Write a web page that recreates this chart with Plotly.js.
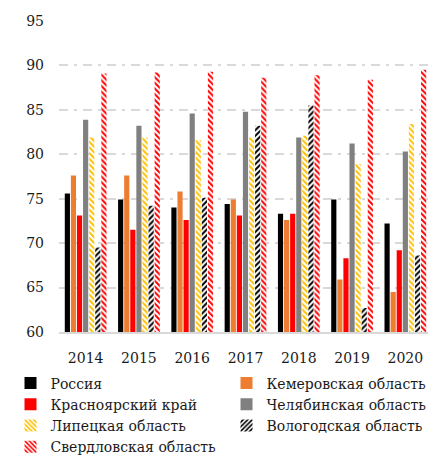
<!DOCTYPE html>
<html>
<head>
<meta charset="utf-8">
<script src="https://cdn.plot.ly/plotly-3.0.1.min.js"></script>
<style>
html,body{margin:0;padding:0;overflow:hidden;background:#fff;}
#chart{width:432px;height:456px;}
</style>
</head>
<body>
<div id="chart"></div>
<script>
const years = ['2014','2015','2016','2017','2018','2019','2020'];
const russia      = [75.6, 74.9, 74.0, 74.4, 73.3, 74.9, 72.2];
const kemerovo    = [77.6, 77.6, 75.8, 74.9, 72.6, 65.9, 64.5];
const krasnoyarsk = [73.1, 71.5, 72.6, 73.1, 73.3, 68.3, 69.2];
const chelyabinsk = [83.9, 83.2, 84.6, 84.8, 81.9, 81.2, 80.3];
const lipetsk     = [81.9, 81.9, 81.6, 81.9, 82.1, 78.9, 83.4];
const vologda     = [69.5, 74.2, 75.1, 83.2, 85.5, 62.7, 68.6];
const sverdlovsk  = [89.1, 89.2, 89.3, 88.6, 88.9, 88.4, 89.5];
const yTicks = [60, 65, 70, 75, 80, 85, 90, 95];

function solid(name, y, color) {
  return {type:'bar', name:name, x:years, y:y, marker:{color:color, line:{width:0}}};
}
function patterned(name, y, color, shape) {
  return {type:'bar', name:name, x:years, y:y,
    marker:{color:'#ffffff', line:{width:0},
      pattern:{shape:shape, fgcolor:color, bgcolor:'#ffffff', size:4, solidity:0.5, fillmode:'replace'}}};
}

const data = [
  solid('Россия', russia, '#000000'),
  solid('Кемеровская область', kemerovo, '#ED7D31'),
  solid('Красноярский край', krasnoyarsk, '#FF0000'),
  solid('Челябинская область', chelyabinsk, '#808080'),
  patterned('Липецкая область', lipetsk, '#FFC000', '\\'),
  patterned('Вологодская область', vologda, '#000000', '/'),
  patterned('Свердловская область', sverdlovsk, '#FF0000', '\\')
];

const font = {family:'DejaVu Serif', size:14, color:'#1a1a1a'};

const layout = {
  width:432, height:456,
  margin:{l:59, r:0, t:21, b:124, autoexpand:false},
  paper_bgcolor:'#ffffff', plot_bgcolor:'#ffffff',
  font:font,
  barmode:'group', bargap:0.2, bargroupgap:0.15,
  showlegend:true,
  legend:{orientation:'h', x:-0.13, xanchor:'left', y:-0.114, yanchor:'top',
    entrywidth:171, entrywidthmode:'pixels', font:font, traceorder:'normal',
    itemclick:false, bgcolor:'rgba(0,0,0,0)'},
  xaxis:{type:'category', showgrid:false, showline:true, linecolor:'#D9D9D9', linewidth:2,
    ticks:'', ticklabelstandoff:12, tickfont:font, fixedrange:true, automargin:false},
  yaxis:{range:[60,95], tickvals:yTicks, ticktext:yTicks.map(String), showgrid:true,
    gridcolor:'#D9D9D9', gridwidth:2, griddash:'9px,6px,3px,6px', zeroline:false,
    showline:false, ticks:'', ticklabelstandoff:14, tickfont:font, fixedrange:true, automargin:false}
};

Plotly.newPlot('chart', data, layout, {displayModeBar:false, staticPlot:true});
</script>
</body>
</html>
